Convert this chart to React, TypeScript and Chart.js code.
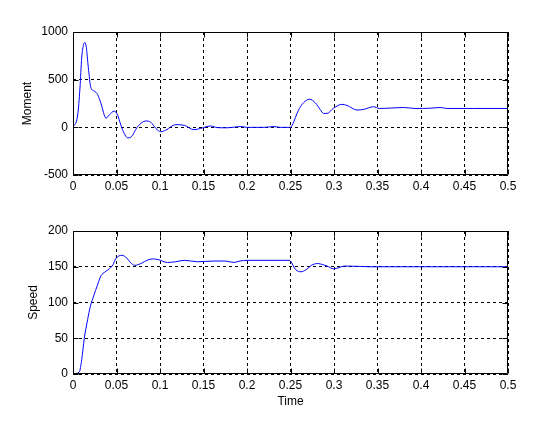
import React, { useEffect, useRef } from "react";
import { Chart, registerables } from "chart.js";
Chart.register(...registerables);

// ---- Data ----
const momentTime = [0, 0.0054, 0.008, 0.01, 0.0122, 0.0138, 0.0153, 0.0176, 0.0206, 0.0245, 0.0283, 0.032, 0.038, 0.0417, 0.0474, 0.0512, 0.055, 0.0589, 0.0627, 0.0665, 0.0742, 0.0837, 0.0894, 0.0952, 0.101, 0.1067, 0.118, 0.128, 0.139, 0.1468, 0.158, 0.166, 0.177, 0.186, 0.193, 0.2, 0.22, 0.231, 0.238, 0.25, 0.2538, 0.2576, 0.263, 0.2718, 0.2787, 0.2844, 0.288, 0.292, 0.2997, 0.309, 0.315, 0.3265, 0.334, 0.3456, 0.352, 0.365, 0.38, 0.393, 0.41, 0.422, 0.43, 0.46, 0.5];
const momentValues = [0, 130, 412, 731, 870, 890, 840, 628, 415, 380, 344, 255, 96, 131, 170, 131, 24, -64, -110, -103, 6, 67, 53, -11, -46, -29, 28, 21, -25, -11, 14, -3, -5, 3, 8, 0, 0, 8, 0, 0, 60, 149, 237, 295, 255, 184, 146, 146, 202, 241, 230, 181, 188, 216, 198, 202, 208, 198, 200, 208, 198, 198, 198];

const speedTime = [0, 0.0073, 0.01, 0.013, 0.0168, 0.02, 0.0237, 0.028, 0.032, 0.037, 0.0417, 0.046, 0.049, 0.0562, 0.062, 0.066, 0.071, 0.079, 0.085, 0.0914, 0.098, 0.1086, 0.118, 0.128, 0.143, 0.162, 0.175, 0.185, 0.192, 0.2, 0.249, 0.25, 0.256, 0.262, 0.268, 0.274, 0.2813, 0.287, 0.292, 0.2997, 0.306, 0.312, 0.33, 0.34, 0.5];
const speedValues = [0, 3, 20, 50, 76, 95, 109, 124, 137, 143, 147, 153, 161, 166, 162, 156, 152, 155, 159, 161, 160, 156, 157, 159, 157, 158, 158, 156, 158, 159, 159, 158, 146, 143, 146, 152, 154.5, 153, 151, 147, 149, 151, 150.5, 150, 150];

const timeRange = [0, 0.5];
const timeStep = 0.05;
const momentRange = [-500, 1000];
const momentStep = 500;
const speedRange = [0, 200];
const speedStep = 50;

const FONT = { family: "'Liberation Sans', Arial, sans-serif", size: 12 };

const boxPlugin = {
  id: "matlabBox",
  afterDraw(chart: any) {
    const { ctx, chartArea: a, scales } = chart;
    const L = Math.round(a.left) + 0.5;
    const R = Math.round(a.right) - 0.5;
    const T = Math.round(a.top) + 0.5;
    const B = Math.round(a.bottom) - 0.5;
    ctx.save();
    ctx.strokeStyle = "#000";
    ctx.lineWidth = 1;
    ctx.setLineDash([]);
    ctx.beginPath();
    ctx.rect(L, T, R - L, B - T);
    const xs = scales.x;
    const ys = scales.y;
    const tl = 5;
    xs.ticks.forEach((t: any) => {
      const px = Math.round(xs.getPixelForValue(t.value)) + 0.5;
      ctx.moveTo(px, B);
      ctx.lineTo(px, B - tl);
      ctx.moveTo(px, T);
      ctx.lineTo(px, T + tl);
    });
    ys.ticks.forEach((t: any) => {
      const py = Math.round(ys.getPixelForValue(t.value)) + 0.5;
      ctx.moveTo(L, py);
      ctx.lineTo(L + tl, py);
      ctx.moveTo(R, py);
      ctx.lineTo(R - tl, py);
    });
    ctx.stroke();
    ctx.restore();
  },
};

function makeConfig(
  xs: number[],
  ys: number[],
  yRange: number[],
  yStep: number,
  yTitle: string,
  xTitle: string | null,
  padTop: number,
  xHeight: number,
  yTitlePad: number
): any {
  return {
    type: "line",
    data: {
      datasets: [
        {
          data: xs.map((x, i) => ({ x, y: ys[i] })),
          borderColor: "#0000ff",
          borderWidth: 1,
          pointRadius: 0,
          fill: false,
          cubicInterpolationMode: "monotone",
        },
      ],
    },
    options: {
      responsive: false,
      animation: false,
      devicePixelRatio: 1,
      layout: { padding: { top: padTop, right: 30, left: 0, bottom: 0 } },
      plugins: { legend: { display: false }, tooltip: { enabled: false } },
      scales: {
        x: {
          type: "linear",
          min: timeRange[0],
          max: timeRange[1],
          afterFit: (s: any) => {
            s.height = xHeight;
          },
          ticks: {
            stepSize: timeStep,
            color: "#000",
            font: FONT,
            padding: 4,
            maxRotation: 0,
            autoSkip: false,
            callback: (v: number) => String(Math.round(v * 100) / 100),
          },
          grid: { color: "#000", lineWidth: 1, drawTicks: false },
          border: { display: false, dash: [3, 3] },
          title: xTitle
            ? { display: true, text: xTitle, color: "#000", font: FONT, padding: { top: 0, bottom: 21 } }
            : { display: false },
        },
        y: {
          type: "linear",
          min: yRange[0],
          max: yRange[1],
          afterFit: (s: any) => {
            s.width = 73;
          },
          ticks: {
            stepSize: yStep,
            color: "#000",
            font: FONT,
            padding: 5,
            callback: (v: number) => String(Math.round(v)),
          },
          grid: { color: "#000", lineWidth: 1, drawTicks: false },
          border: { display: false, dash: [3, 3] },
          title: { display: true, text: yTitle, color: "#000", font: FONT, padding: { top: yTitlePad, bottom: 0 } },
        },
      },
    },
    plugins: [boxPlugin],
  };
}

export default function App() {
  const topRef = useRef<HTMLCanvasElement | null>(null);
  const botRef = useRef<HTMLCanvasElement | null>(null);

  useEffect(() => {
    const c1 = new Chart(
      topRef.current as HTMLCanvasElement,
      makeConfig(momentTime, momentValues, momentRange, momentStep, "Moment", null, 32, 25, 20)
    );
    const c2 = new Chart(
      botRef.current as HTMLCanvasElement,
      makeConfig(speedTime, speedValues, speedRange, speedStep, "Speed", "Time", 31, 56, 26)
    );
    return () => {
      c1.destroy();
      c2.destroy();
    };
  }, []);

  return (
    <div style={{ position: "fixed", left: 0, top: 0, width: 538, height: 430, background: "#fff" }}>
      <canvas ref={topRef} width={538} height={200} style={{ position: "absolute", left: 0, top: 0, width: 538, height: 200 }} />
      <canvas ref={botRef} width={538} height={230} style={{ position: "absolute", left: 0, top: 200, width: 538, height: 230 }} />
    </div>
  );
}
